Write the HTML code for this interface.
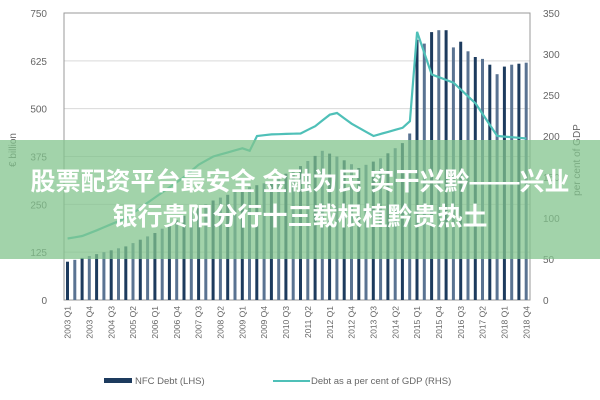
<!DOCTYPE html>
<html><head><meta charset="utf-8"><style>
html,body{margin:0;padding:0;background:#fff;width:600px;height:400px;overflow:hidden;position:relative;font-family:"Liberation Sans",sans-serif}
#band{position:absolute;left:0;top:140px;width:600px;height:119px;background:rgba(130,195,140,0.74)}
.t{position:absolute;left:0;width:600px;text-align:center;color:#fff;font-weight:bold;font-size:25px;font-family:"Liberation Sans","Noto Sans CJK SC",sans-serif;white-space:nowrap;line-height:1}
</style></head><body>
<svg id="c" width="600" height="400" xmlns="http://www.w3.org/2000/svg" style="position:absolute;left:0;top:0"></svg>
<div id="band"></div>
<div class="t" style="top:170px">股票配资平台最安全 金融为民 实干兴黔——兴业</div>
<div class="t" style="top:205px">银行贵阳分行十三载根植黔贵热土</div>
<script>
const s=document.getElementById('c');let h='';
const L=64,R=530,T=13,B=300,n=64,w=(R-L)/n;
const yl=v=>B-v*(B-T)/750, yr=v=>B-v*(B-T)/350;
function interp(k){const a=[];const ks=Object.keys(k).map(Number).sort((x,y)=>x-y);for(let i=0;i<n;i++){let j=0;while(j<ks.length-1&&ks[j+1]<i)j++;const a0=ks[j],a1=ks[Math.min(j+1,ks.length-1)];const t=a1==a0?0:(i-a0)/(a1-a0);a.push(k[a0]+(k[a1]-k[a0])*Math.max(0,Math.min(1,t)));}return a;}
const bars=interp({0:100,4:120,8:140,12:175,16:220,20:260,24:290,28:310,32:350,35:390,37:375,40:345,43:370,46:410,47:435,48:680,49:670,50:700,51:705,52:705,53:660,54:675,55:650,56:635,57:630,58:615,59:590,60:610,61:615,63:620});
const line=interp({0:75,2:78,4:85,8:100,12:125,16:150,18:165,20:175,22:180,24:185,25:182,26:200,28:202,32:203,34:212,36:226,37:228,39:215,42:200,44:205,46:210,47:218,48:327,50:275,53:265,56:240,59:200,63:197});
for(let v=0;v<=750;v+=125){const y=yl(v);h+=`<line x1="${L}" x2="${R}" y1="${y}" y2="${y}" stroke="#d9d9d9" stroke-width="1"/>`;h+=`<text x="47" y="${y+4}" text-anchor="end" font-size="10" fill="#666">${v}</text>`;}
for(let v=0;v<=350;v+=50){h+=`<text x="543" y="${yr(v)+4}" font-size="10" fill="#666">${v}</text>`;}
h+=`<rect x="${L}" y="${T}" width="${R-L}" height="${B-T}" fill="none" stroke="#999"/>`;
for(let i=0;i<n;i++){const x=L+i*w+2;const c=i%2?'#5a7392':'#1d3b5e';h+=`<rect x="${x.toFixed(1)}" y="${yl(bars[i]).toFixed(1)}" width="3" height="${(B-yl(bars[i])).toFixed(1)}" fill="${c}"/>`;}
h+=`<polyline fill="none" stroke="#4fc0b8" stroke-width="2.2" points="${line.map((v,i)=>(L+(i+.5)*w).toFixed(1)+','+yr(v).toFixed(1)).join(' ')}"/>`;
const Q=['Q1','Q2','Q3','Q4'];
for(let i=0;i<n;i+=3){const x=L+(i+.5)*w+3;const lab=(2003+Math.floor(i/4))+' '+Q[i%4];h+=`<text transform="translate(${x.toFixed(1)},306) rotate(-90)" text-anchor="end" font-size="8.5" fill="#666">${lab}</text>`;}
h+=`<text transform="translate(16,150) rotate(-90)" text-anchor="middle" font-size="10" fill="#666">€ billion</text>`;
h+=`<text transform="translate(580,160) rotate(-90)" text-anchor="middle" font-size="10" fill="#666">per cent of GDP</text>`;
h+=`<rect x="104" y="378" width="28" height="5" fill="#1d3b5e"/><text x="135" y="384" font-size="9.5" fill="#666">NFC Debt (LHS)</text>`;
h+=`<line x1="273" x2="310" y1="381" y2="381" stroke="#4fc0b8" stroke-width="2"/><text x="311" y="384" font-size="9.5" fill="#666">Debt as a per cent of GDP (RHS)</text>`;
s.innerHTML=h;
</script>
</body></html>
